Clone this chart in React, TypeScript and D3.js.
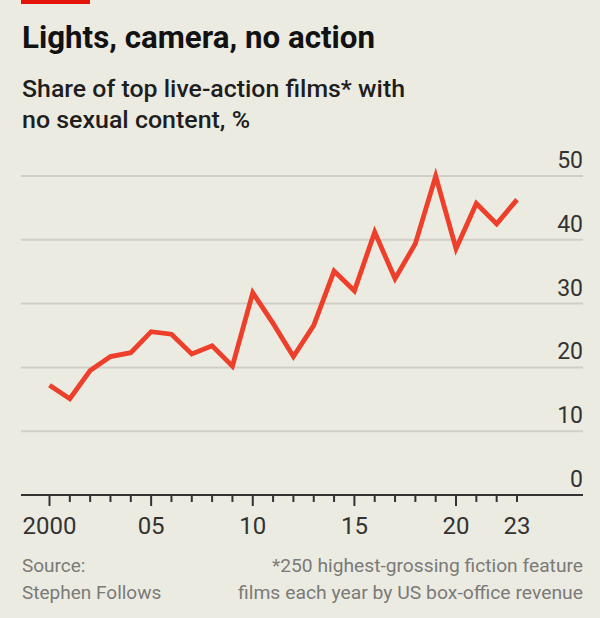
import * as d3 from 'd3';

const years = d3.range(2000, 2024);
const shares = [
  17.2, 15.1, 19.5, 21.7, 22.3, 25.6, 25.2, 22.1, 23.4, 20.2,
  31.7, 26.9, 21.7, 26.6, 35.1, 32.0, 41.2, 33.9, 39.4, 50.0,
  38.6, 45.7, 42.5, 46.3,
];
const yTicks = [0, 10, 20, 30, 40, 50];
const xLabelYears = [2000, 2005, 2010, 2015, 2020, 2023];
const majorYears = [2000, 2005, 2010, 2015, 2020];

const title = 'Lights, camera, no action';
const subtitle = ['Share of top live-action films* with', 'no sexual content, %'];
const source = ['Source:', 'Stephen Follows'];
const footnote = ['*250 highest-grossing fiction feature', 'films each year by US box-office revenue'];

const fmtYear = (y: number) => (y === 2000 ? '2000' : String(y % 100).padStart(2, '0'));

export default function App() {
  const W = 600, H = 618;
  const left = 21, right = 583;

  const x = d3.scaleLinear().domain([2000, 2023]).range([49.5, 517]);
  const y = d3.scaleLinear().domain([0, 50]).range([495, 176]);

  const line = d3.line<number>()
    .x((_, i) => x(years[i]))
    .y(d => y(d));

  const font = 'Roboto, "Noto Sans", sans-serif';

  return (
    <svg width={W} height={H} style={{ position: 'fixed', left: 0, top: 0 }} fontFamily={font}>
      <rect width={W} height={H} fill="#ecebe2" />
      <rect x={21} y={0} width={69} height={4} fill="#e3120b" />

      <text x={22} y={48} fontSize={31} fontWeight={700} fill="#121212"
        textLength={353} lengthAdjust="spacingAndGlyphs">{title}</text>
      {subtitle.map((s, i) => (
        <text key={s} x={22} y={97 + i * 31} fontSize={23} fontWeight={500} fill="#1e1e1e"
          textLength={i === 0 ? 383 : 228} lengthAdjust="spacingAndGlyphs">{s}</text>
      ))}

      {yTicks.filter(t => t > 0).map(t => (
        <line key={t} x1={left} x2={right} y1={y(t)} y2={y(t)} stroke="#cfcfc8" strokeWidth={2} />
      ))}
      {yTicks.map(t => (
        <text key={t} x={right} y={y(t) - 8} textAnchor="end" fontSize={23} fill="#333"
          >{t}</text>
      ))}

      <path d={line(shares) || ''} fill="none" stroke="#ee3f2b" strokeWidth={4.8}
        strokeLinejoin="miter" strokeMiterlimit={4} />

      <line x1={left} x2={right} y1={y(0)} y2={y(0)} stroke="#333" strokeWidth={2} />
      {years.map(yr => (
        <line key={yr} x1={x(yr)} x2={x(yr)} y1={y(0)}
          y2={y(0) + (majorYears.includes(yr) ? 11 : 7)} stroke="#333" strokeWidth={2} />
      ))}
      {xLabelYears.map(yr => (
        <text key={yr} x={x(yr)} y={534} textAnchor="middle" fontSize={24} fill="#333">{fmtYear(yr)}</text>
      ))}

      {source.map((s, i) => (
        <text key={s} x={22} y={572 + i * 27} fontSize={19} fill="#7a7a78">{s}</text>
      ))}
      {footnote.map((s, i) => (
        <text key={s} x={583} y={572 + i * 27} fontSize={19} fill="#7a7a78" textAnchor="end"
          textLength={i === 0 ? 311 : 345} lengthAdjust="spacingAndGlyphs">{s}</text>
      ))}
    </svg>
  );
}
